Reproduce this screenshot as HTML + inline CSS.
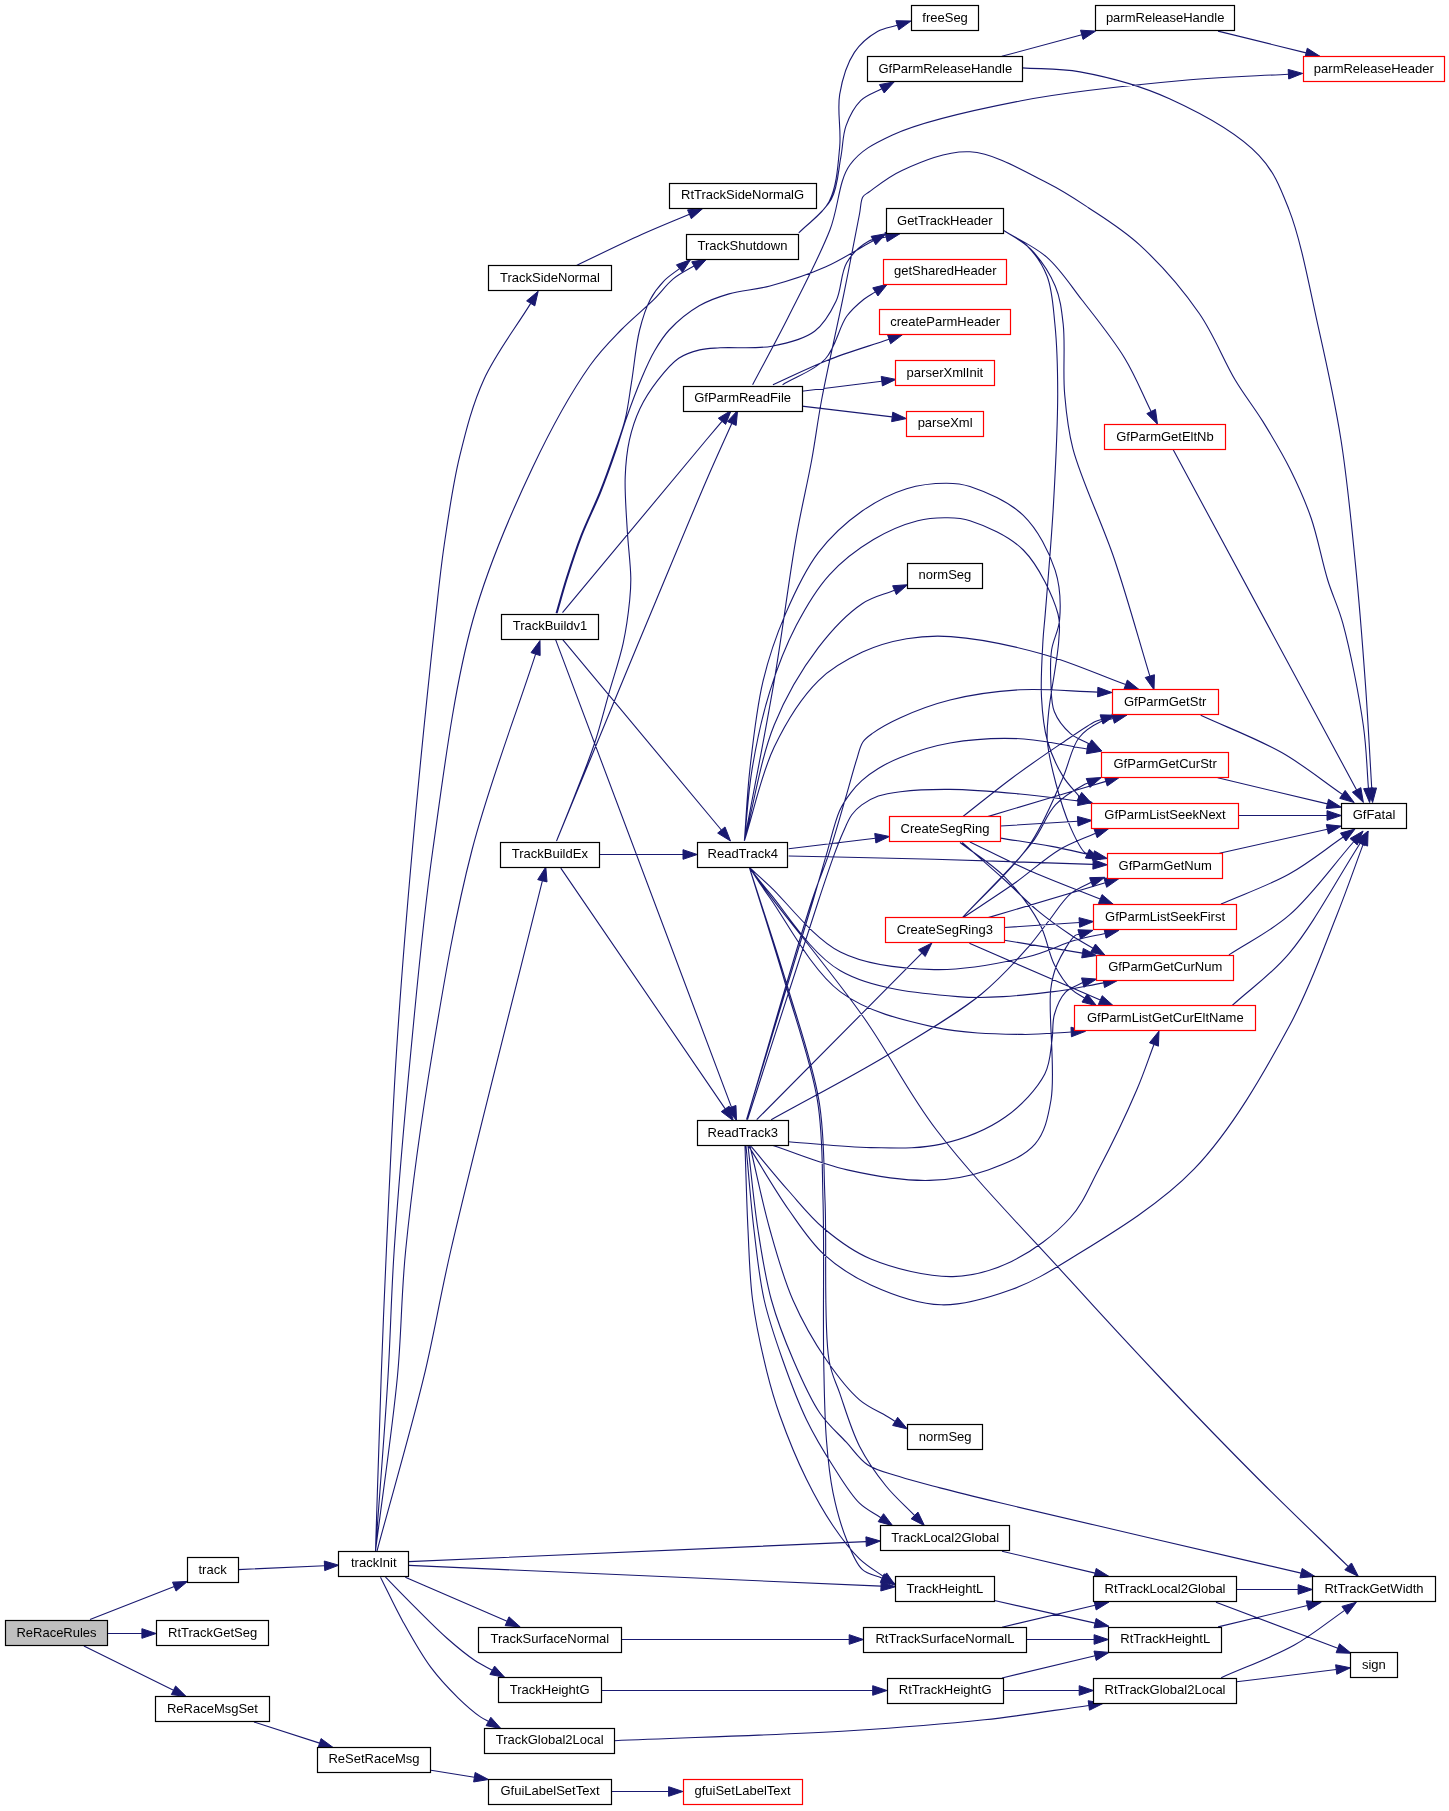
<!DOCTYPE html>
<html><head><meta charset="utf-8"><style>
html,body{margin:0;padding:0;background:#fff;}
svg{display:block;} .t{will-change:transform;}
text{font-family:"Liberation Sans",sans-serif;font-size:13px;text-anchor:middle;fill:#000;}
</style></head><body>
<svg width="1449" height="1811" viewBox="0 0 1449 1811">
<path d="M90.00,1619.60L174.28,1586.61 M108.00,1633.50L141.90,1633.50 M83.90,1646.00L173.48,1690.27 M254.00,1722.00L319.59,1743.12 M431.00,1770.20L474.38,1777.22 M611.50,1791.50L668.60,1791.50 M238.20,1569.60L324.51,1565.82 M405.30,1577.20L507.08,1621.22 M385.50,1577.20C395.07,1586.93 404.23,1596.50 414.20,1606.40C424.78,1616.91 436.54,1629.04 447.30,1638.50C456.71,1646.78 466.56,1654.88 474.90,1660.50C481.17,1664.72 486.46,1667.02 492.24,1670.28 M380.50,1577.20C388.03,1592.10 394.87,1607.11 403.10,1621.90C411.57,1637.12 420.86,1653.93 430.70,1667.20C439.40,1678.93 449.32,1689.33 458.30,1698.10C465.82,1705.44 474.70,1712.92 480.40,1716.90C483.62,1719.15 485.77,1719.94 488.45,1721.46 M408.90,1561.60L866.11,1541.62 M408.90,1565.40L881.01,1586.17 M621.40,1639.50L849.20,1639.50 M601.20,1690.50L872.70,1690.50 M614.60,1740.70C693.07,1737.37 782.51,1734.87 850.00,1730.70C901.04,1727.55 942.39,1724.37 984.30,1719.80C1021.38,1715.75 1053.99,1710.23 1088.83,1705.45 M1002.00,1551.20L1095.08,1573.12 M994.40,1600.50L1095.05,1623.16 M1002.00,1627.20L1095.08,1605.28 M1026.40,1639.50L1094.10,1639.50 M1002.00,1678.00L1095.09,1655.73 M1003.30,1690.50L1079.20,1690.50 M1236.60,1589.50L1298.10,1589.50 M1216.00,1602.20L1337.82,1648.24 M1218.10,1626.90L1307.39,1605.53 M1221.20,1677.70C1245.60,1666.83 1272.79,1657.25 1294.40,1645.10C1313.27,1634.49 1327.89,1621.92 1344.64,1610.34 M1236.70,1681.80L1336.21,1669.55 M749.40,867.50C756.27,876.90 760.54,883.08 770.00,895.70C789.86,922.19 835.36,977.29 863.90,1017.70C890.50,1055.36 906.86,1091.04 936.50,1130.00C972.83,1177.77 1029.39,1235.41 1070.00,1280.20C1103.40,1317.04 1130.94,1346.91 1162.30,1380.00C1194.06,1413.51 1227.54,1448.10 1259.40,1480.00C1289.44,1510.08 1318.57,1537.62 1348.15,1566.42 M375.50,1551.00C377.40,1492.90 379.23,1430.17 381.20,1376.70C382.88,1331.10 384.24,1297.03 386.40,1250.00C389.12,1190.90 392.29,1116.64 396.60,1050.00C400.92,983.30 406.15,918.96 412.30,850.00C418.91,775.98 429.21,675.71 435.30,620.00C438.78,588.15 440.40,570.97 444.20,545.00C448.34,516.71 452.73,484.94 459.60,456.70C466.13,429.85 472.50,404.37 483.90,379.40C495.87,353.19 515.10,328.72 530.70,303.38 M375.50,1551.00C379.67,1492.90 384.77,1430.19 388.00,1376.70C390.75,1331.12 391.08,1297.00 394.20,1250.00C398.13,1190.88 404.57,1116.63 411.00,1050.00C417.44,983.29 423.06,918.83 432.80,850.00C443.29,775.85 453.89,687.95 472.90,620.00C488.81,563.13 511.13,512.76 532.50,467.70C550.59,429.54 572.59,390.14 590.00,365.50C601.04,349.88 610.20,341.13 621.00,330.00C631.55,319.13 644.62,308.73 654.00,299.40C661.41,292.03 666.40,284.49 673.20,278.90C679.34,273.86 689.83,268.42 692.60,266.80C693.34,266.37 693.55,266.28 694.03,266.02 M375.50,1551.00C382.80,1492.90 392.29,1430.25 397.40,1376.70C401.75,1331.18 400.99,1296.94 405.70,1250.00C411.64,1190.82 421.79,1116.50 432.80,1050.00C443.87,983.17 454.94,915.81 472.00,850.00C489.15,783.84 514.39,719.40 535.59,654.10 M377.00,1551.00C392.63,1492.90 410.98,1430.33 423.90,1376.70C434.85,1331.26 438.66,1303.14 450.90,1250.00C471.87,1158.95 511.87,1003.85 542.36,880.78 M575.60,265.90C597.60,255.47 621.28,243.73 641.60,234.60C658.74,226.90 673.49,221.06 689.44,214.29 M556.10,613.10C559.53,601.37 562.51,590.14 566.40,577.90C570.71,564.35 575.51,549.57 581.00,535.40C586.67,520.78 594.23,505.98 600.00,491.50C605.52,477.66 610.58,463.19 615.00,450.40C618.83,439.32 622.49,430.13 625.20,419.20C628.09,407.54 629.32,395.76 631.50,382.40C634.09,366.48 635.86,344.99 639.60,330.00C642.53,318.28 645.77,307.99 650.30,299.40C654.07,292.25 658.59,286.53 663.60,281.30C668.36,276.32 674.17,272.81 679.45,268.56 M557.10,613.10C560.53,601.37 563.51,590.14 567.40,577.90C571.71,564.35 576.51,549.57 582.00,535.40C587.67,520.78 595.23,505.98 601.00,491.50C606.52,477.66 611.62,463.20 616.00,450.40C619.79,439.32 622.10,430.32 626.00,419.20C630.56,406.18 636.75,389.46 642.00,377.20C646.22,367.34 649.79,359.07 654.50,351.00C658.92,343.42 662.84,336.81 669.20,330.00C677.00,321.65 688.74,311.92 699.20,305.80C708.75,300.21 718.11,297.09 729.00,293.90C741.42,290.26 755.46,289.87 770.00,286.00C787.21,281.43 808.35,274.60 825.30,267.10C840.80,260.24 860.64,247.60 868.10,243.50C870.74,242.05 871.67,241.54 873.46,240.57 M562.50,612.70C610.40,555.13 682.33,468.47 706.20,440.00C714.07,430.61 716.72,427.55 721.97,421.32 M562.50,639.40L721.35,830.01 M555.50,639.40L731.46,1107.12 M556.50,841.10C562.67,825.73 568.83,810.82 575.00,795.00C581.50,778.34 588.80,760.67 594.50,743.50C600.05,726.77 604.12,710.04 608.90,693.30C613.68,676.57 619.69,659.30 623.20,643.10C626.41,628.29 628.50,612.01 629.70,600.00C630.56,591.44 630.91,586.70 630.80,577.90C630.64,564.85 628.13,545.81 627.20,529.30C626.24,512.17 624.60,492.81 625.20,476.90C625.70,463.53 626.82,451.75 629.40,440.10C631.84,429.08 635.20,418.63 639.90,408.70C644.62,398.72 651.05,388.95 657.70,380.40C664.05,372.23 671.09,363.46 678.70,358.30C685.25,353.86 692.64,351.64 699.70,349.90C706.41,348.25 711.66,348.36 720.00,347.80C733.30,346.91 755.66,349.21 771.90,346.20C787.06,343.39 803.69,339.48 814.60,331.30C824.44,323.92 830.68,312.44 836.00,301.30C841.54,289.70 840.66,273.15 846.70,262.80C851.96,253.79 860.67,245.57 868.10,241.40C873.92,238.14 880.10,238.50 886.10,237.06 M556.50,841.10C575.87,794.23 596.82,743.44 614.60,700.50C629.64,664.19 641.72,634.97 656.30,600.00C672.25,561.76 692.55,512.50 706.60,480.00C716.29,457.59 723.39,442.31 731.78,423.46 M599.50,854.50L683.00,854.50 M560.80,868.10L725.24,1108.89 M798.80,232.90C808.93,222.40 822.37,214.56 829.20,201.40C836.90,186.57 837.98,164.89 839.70,146.80C841.37,129.23 836.93,110.68 839.70,94.40C842.25,79.39 847.16,63.31 854.40,52.40C860.46,43.27 869.58,36.03 877.50,31.50C883.97,27.80 890.74,27.35 897.35,25.28 M798.80,232.90C809.63,221.70 824.31,212.23 831.30,199.30C838.01,186.89 838.25,170.32 840.80,157.30C842.99,146.11 842.54,135.50 846.00,125.90C849.32,116.71 854.32,106.98 860.70,100.70C866.52,94.97 874.79,92.77 881.84,88.81 M1001.80,56.30L1081.79,34.81 M1022.20,67.90C1041.47,69.23 1058.87,68.04 1080.00,71.90C1106.83,76.80 1140.55,85.59 1169.50,98.80C1200.30,112.86 1238.59,133.91 1258.90,155.40C1274.38,171.78 1280.05,186.97 1288.80,209.10C1301.17,240.40 1309.77,289.19 1318.60,328.40C1327.09,366.12 1334.95,401.80 1341.00,440.00C1347.30,479.78 1351.21,521.71 1355.30,562.60C1359.38,603.41 1362.69,646.01 1365.50,685.10C1368.08,720.94 1369.66,753.85 1371.74,788.23 M1218.00,31.10L1306.12,52.87 M752.60,384.70C764.50,362.13 776.19,341.11 788.30,317.00C801.90,289.94 819.24,257.28 829.90,230.00C838.87,207.05 838.20,181.01 850.00,164.80C860.29,150.66 873.52,143.84 892.50,135.00C922.76,120.90 974.11,109.93 1020.00,101.00C1072.30,90.82 1141.06,84.24 1190.10,79.80C1227.27,76.43 1255.65,76.07 1288.42,74.21 M782.60,384.70C796.83,376.13 814.58,370.58 825.30,359.00C835.80,347.66 839.03,326.89 846.70,316.30C852.16,308.75 858.53,303.50 863.90,299.20C867.92,295.98 871.53,294.33 875.35,291.89 M772.90,384.70C790.93,376.60 808.17,367.82 827.00,360.40C846.80,352.59 868.38,346.28 889.07,339.22 M801.80,391.20L881.81,381.18 M801.80,406.10L892.20,416.90 M1003.60,230.40C1018.07,239.37 1034.13,246.02 1047.00,257.30C1060.39,269.03 1069.97,284.49 1082.00,300.00C1095.76,317.73 1112.84,338.71 1124.70,358.20C1135.47,375.89 1142.33,393.73 1151.14,411.49 M1003.60,230.40C1012.57,236.60 1022.41,240.76 1030.50,249.00C1039.97,258.64 1049.85,273.26 1055.30,286.30C1060.37,298.44 1061.54,309.67 1063.20,324.30C1065.41,343.83 1062.76,371.71 1064.60,393.40C1066.26,412.89 1067.39,427.38 1072.90,448.60C1080.91,479.44 1101.57,521.45 1114.30,559.00C1127.26,597.26 1138.00,637.08 1149.85,676.12 M1003.60,230.40C1011.17,235.27 1019.51,238.33 1026.30,245.00C1034.28,252.84 1042.24,263.93 1047.00,276.00C1052.45,289.83 1053.11,306.70 1054.90,324.30C1057.03,345.22 1057.67,367.67 1057.70,393.40C1057.74,425.93 1055.58,467.09 1053.50,503.90C1051.42,540.75 1047.13,590.47 1045.20,614.40C1044.27,625.92 1043.57,629.76 1043.00,640.00C1042.14,655.31 1040.54,679.67 1041.50,697.40C1042.33,712.83 1043.53,727.04 1047.30,740.50C1050.88,753.28 1056.96,766.48 1063.00,776.40C1067.92,784.48 1073.90,789.85 1079.35,796.57 M1173.10,449.60L1356.61,789.91 M1200.70,715.30C1227.70,727.73 1257.18,738.65 1281.70,752.60C1303.99,765.28 1322.18,780.46 1342.42,794.39 M1217.70,777.80L1327.39,803.89 M1238.50,815.50L1327.00,815.50 M1219.40,853.30L1327.34,829.21 M1221.00,904.10C1243.73,894.07 1268.28,885.64 1289.20,874.00C1308.79,863.10 1325.20,849.38 1343.20,837.07 M1228.90,954.90C1249.00,941.67 1269.85,932.04 1289.20,915.20C1311.71,895.60 1332.18,866.23 1353.67,841.75 M1232.00,1005.70C1251.07,988.23 1270.50,975.46 1289.20,953.30C1313.53,924.48 1336.63,879.78 1360.35,843.02 M744.40,840.90C754.33,787.53 765.38,732.78 774.20,680.80C782.53,631.73 789.05,577.72 796.20,537.30C801.47,507.51 807.28,484.17 811.70,460.00C815.58,438.77 817.33,422.79 821.60,400.00C827.30,369.55 837.23,326.61 843.90,293.70C849.67,265.24 856.23,230.79 859.50,214.00C861.01,206.25 860.54,200.75 862.80,197.00C864.33,194.45 866.04,194.15 869.00,192.00C875.58,187.21 888.45,176.50 902.00,170.40C920.11,162.24 946.86,150.46 970.00,151.80C995.11,153.25 1025.63,172.16 1047.00,182.80C1063.30,190.92 1074.08,198.22 1088.40,207.70C1104.79,218.55 1122.75,229.46 1139.60,244.90C1159.80,263.40 1182.94,289.87 1199.30,313.50C1214.21,335.04 1223.58,360.68 1235.20,380.00C1244.63,395.68 1253.84,406.91 1262.80,421.40C1272.27,436.72 1282.27,453.36 1290.40,469.70C1298.31,485.58 1305.10,500.66 1311.10,518.00C1317.73,537.16 1321.92,561.21 1327.70,580.00C1332.62,595.99 1338.12,606.02 1343.00,623.90C1350.30,650.66 1359.21,696.05 1363.40,726.00C1366.65,749.20 1366.76,767.50 1368.44,788.25 M744.40,840.90C746.23,816.97 747.06,794.22 749.90,769.10C753.06,741.13 756.61,707.86 763.10,680.80C768.84,656.88 776.02,635.92 785.20,614.60C794.41,593.22 804.79,570.41 818.30,552.70C830.88,536.20 846.92,521.72 862.50,510.80C876.52,500.97 891.90,493.26 906.60,488.70C919.87,484.58 934.86,483.19 946.40,483.20C955.29,483.21 960.87,483.50 970.00,486.50C984.56,491.29 1009.18,501.68 1023.30,515.40C1037.76,529.45 1049.33,551.91 1055.20,570.40C1060.38,586.71 1060.82,605.35 1059.60,619.70C1058.63,631.12 1053.06,639.59 1051.60,650.00C1050.10,660.68 1050.37,672.39 1050.90,683.00C1051.40,692.94 1051.03,703.29 1054.40,711.80C1057.64,719.97 1064.01,727.83 1070.20,733.30C1075.81,738.26 1082.95,740.44 1089.32,744.01 M744.40,840.90C746.97,816.97 748.05,793.35 752.10,769.10C756.34,743.69 762.06,716.28 769.70,691.80C776.94,668.58 785.72,645.74 796.20,625.60C805.87,607.02 816.21,589.32 829.40,574.80C842.12,560.79 858.14,548.68 873.50,539.50C887.67,531.03 904.31,524.14 917.70,520.70C928.07,518.04 937.31,517.70 946.40,517.80C954.66,517.89 960.89,517.76 970.00,520.70C984.58,525.41 1008.97,535.59 1023.30,550.00C1038.98,565.77 1053.39,596.94 1058.00,614.00C1060.75,624.20 1059.39,629.21 1058.80,640.00C1057.82,658.01 1050.46,693.23 1048.70,711.80C1047.59,723.49 1046.52,730.02 1047.30,740.50C1048.26,753.44 1052.13,769.27 1055.90,783.50C1059.73,797.98 1064.78,814.28 1070.20,826.60C1074.57,836.53 1081.25,849.31 1084.60,852.40C1085.68,853.39 1086.46,853.25 1087.39,853.67 M744.40,840.90C754.33,802.27 760.45,758.93 774.20,725.00C786.06,695.74 802.03,669.01 818.30,647.70C831.93,629.84 848.00,613.20 862.50,603.50C873.30,596.28 883.83,594.63 894.50,590.19 M744.40,840.90C754.33,809.60 760.88,774.75 774.20,747.00C786.17,722.07 801.73,697.18 818.30,680.80C831.79,667.47 847.25,659.17 862.50,652.10C876.75,645.49 891.73,641.37 906.60,638.80C921.17,636.28 933.54,635.42 950.80,636.60C975.70,638.31 1011.98,645.62 1041.30,653.70C1070.25,661.68 1097.55,674.29 1125.67,684.58 M788.60,848.70L875.30,838.22 M788.60,856.00C837.13,857.10 884.62,857.95 934.20,859.30C985.99,860.71 1040.07,862.66 1093.01,864.35 M746.50,1119.70C768.37,1046.47 797.01,945.64 812.10,900.00C819.03,879.05 823.31,870.55 828.60,854.60C834.38,837.18 840.27,816.19 845.20,799.40C849.32,785.37 852.93,771.24 856.30,760.70C858.66,753.30 859.70,746.80 862.90,742.00C865.53,738.07 868.45,736.21 872.80,733.10C879.50,728.31 889.62,722.59 900.40,717.70C914.31,711.39 931.80,704.53 950.00,700.00C971.09,694.75 996.00,691.19 1020.00,689.80C1045.16,688.35 1071.80,691.32 1097.71,692.08 M746.50,1119.70C768.73,1046.47 799.59,945.80 813.20,900.00C819.38,879.22 821.96,869.62 826.40,854.60C830.79,839.76 834.65,821.55 839.70,810.40C843.09,802.92 846.78,797.98 850.70,792.80C854.20,788.19 857.51,784.46 861.80,780.60C866.57,776.31 872.23,772.22 878.30,768.50C884.98,764.42 891.37,760.95 900.40,757.40C913.45,752.28 931.85,746.15 950.00,743.00C971.14,739.33 996.96,737.65 1020.00,738.70C1042.68,739.73 1064.78,745.58 1087.17,749.03 M747.50,1119.70C771.23,1046.47 803.48,945.74 818.70,900.00C825.64,879.15 829.62,866.99 834.20,854.60C837.42,845.87 839.92,839.40 843.00,832.50C845.81,826.21 848.31,819.62 851.80,814.80C854.74,810.73 857.80,807.85 861.80,804.90C866.41,801.50 872.22,798.27 878.30,796.10C884.97,793.72 891.52,792.78 900.40,791.70C913.59,790.09 932.05,789.23 950.00,789.40C971.33,789.61 997.78,791.96 1020.00,794.00C1040.29,795.86 1058.73,798.55 1078.10,800.83 M771.20,1119.70C809.90,1098.20 851.00,1077.04 887.30,1055.20C920.63,1035.15 956.11,1014.52 981.20,994.20C1000.51,978.56 1016.02,960.94 1028.10,947.30C1036.59,937.71 1041.39,930.23 1048.30,921.50C1055.48,912.44 1062.44,900.66 1070.40,893.90C1076.95,888.34 1084.30,886.07 1091.25,882.15 M756.70,1119.70L921.83,953.15 M788.40,1141.70C815.87,1143.67 844.41,1147.31 870.80,1147.60C895.18,1147.87 918.74,1149.21 941.20,1144.10C963.45,1139.04 987.31,1129.73 1005.00,1117.30C1021.31,1105.84 1037.27,1088.61 1044.80,1074.00C1050.59,1062.77 1050.39,1050.56 1052.00,1040.00C1053.38,1030.93 1052.10,1022.51 1054.40,1014.50C1056.67,1006.59 1060.44,997.61 1065.60,992.20C1070.18,987.40 1077.02,985.78 1082.73,982.57 M772.20,1145.30C797.23,1153.50 821.42,1164.06 847.30,1169.90C873.78,1175.87 904.37,1181.02 929.40,1180.40C950.65,1179.87 970.11,1176.26 988.10,1169.90C1005.15,1163.87 1024.50,1156.37 1035.00,1144.10C1044.83,1132.61 1047.80,1118.36 1051.00,1100.00C1055.91,1071.84 1047.84,1013.27 1050.70,989.70C1052.08,978.33 1053.37,973.15 1056.90,964.80C1060.98,955.14 1070.49,939.04 1075.00,935.60C1076.63,934.36 1077.85,934.76 1079.28,934.34 M751.10,1146.40C763.63,1161.27 776.19,1176.93 788.70,1191.00C800.45,1204.21 810.57,1217.35 823.90,1228.50C837.80,1240.13 852.15,1251.25 870.80,1259.00C893.64,1268.49 927.88,1277.13 952.90,1276.60C974.16,1276.15 992.89,1270.35 1011.60,1261.40C1032.10,1251.59 1055.11,1234.58 1070.00,1218.00C1083.13,1203.38 1088.86,1187.67 1098.70,1169.20C1110.97,1146.16 1126.97,1112.77 1136.80,1089.80C1144.09,1072.77 1148.23,1059.58 1153.94,1044.48 M748.80,1146.40C762.10,1167.53 775.31,1190.84 788.70,1209.80C800.36,1226.31 810.15,1241.85 823.90,1254.40C837.55,1266.85 852.89,1276.77 870.80,1284.90C891.28,1294.20 917.64,1304.08 941.20,1304.80C964.58,1305.52 989.72,1297.43 1011.60,1289.50C1032.52,1281.92 1047.50,1272.92 1070.00,1259.00C1104.29,1237.78 1158.19,1206.44 1194.00,1169.20C1231.93,1129.76 1264.44,1072.03 1289.20,1026.30C1309.97,987.93 1323.60,948.22 1336.80,915.20C1347.24,889.10 1354.34,868.00 1363.12,844.40 M745.00,1146.00C746.00,1174.00 746.65,1203.29 748.00,1230.00C749.24,1254.41 749.52,1276.62 752.60,1300.00C755.75,1323.88 761.71,1350.90 766.90,1371.80C771.00,1388.33 774.36,1399.87 780.00,1415.70C786.92,1435.11 797.03,1460.03 806.50,1479.30C814.84,1496.27 823.59,1511.86 833.00,1525.70C841.38,1538.03 850.25,1549.90 859.50,1558.80C867.31,1566.32 875.70,1570.79 883.81,1576.79 M746.00,1146.00C748.67,1174.00 750.79,1203.31 754.00,1230.00C756.94,1254.43 759.18,1277.75 764.20,1300.00C768.93,1320.96 775.70,1340.16 782.70,1360.00C789.78,1380.07 797.64,1401.35 806.50,1419.70C814.57,1436.42 823.80,1451.62 833.00,1466.00C841.52,1479.30 850.30,1494.21 859.50,1503.20C866.41,1509.95 873.74,1512.85 880.86,1517.68 M748.00,1146.00C751.33,1174.00 753.87,1203.34 758.00,1230.00C761.79,1254.47 765.27,1277.80 771.40,1300.00C777.21,1321.02 785.05,1340.84 793.30,1360.00C801.25,1378.45 809.87,1398.49 819.80,1413.00C827.90,1424.84 837.92,1433.14 846.30,1442.20C853.72,1450.23 858.95,1459.01 867.50,1464.70C876.47,1470.66 887.96,1472.91 899.30,1476.60C911.95,1480.71 925.09,1483.98 940.00,1487.90C958.04,1492.64 975.47,1496.88 1000.00,1502.80C1038.72,1512.15 1099.91,1526.29 1150.00,1538.00C1200.26,1549.75 1250.71,1561.44 1301.07,1573.16 M750.00,1146.00C756.67,1174.00 762.50,1203.42 770.00,1230.00C776.92,1254.55 783.27,1278.00 792.90,1300.00C802.20,1321.25 814.41,1342.52 826.40,1360.00C836.81,1375.17 848.24,1390.15 859.50,1399.80C868.20,1407.26 879.47,1411.72 886.00,1415.70C889.85,1418.05 892.10,1419.48 895.14,1421.37 M749.40,867.50C761.50,906.67 774.29,945.88 785.70,985.00C796.98,1023.68 811.40,1063.46 817.50,1100.90C823.05,1134.92 821.89,1163.01 823.00,1200.00C824.40,1246.96 822.85,1315.90 823.70,1360.00C824.30,1391.09 824.52,1415.70 826.40,1439.50C827.94,1459.02 829.53,1475.63 833.00,1492.60C836.29,1508.72 840.86,1525.40 846.30,1539.00C850.89,1550.46 855.20,1562.85 862.20,1569.40C867.79,1574.63 875.54,1575.29 882.22,1578.23 M749.40,867.50C761.93,906.67 775.34,945.85 787.00,985.00C798.51,1023.65 812.77,1063.46 819.00,1100.90C824.66,1134.92 823.42,1163.01 825.00,1200.00C827.01,1246.96 823.36,1326.90 829.00,1360.00C831.63,1375.43 835.43,1380.82 839.70,1393.10C845.15,1408.77 851.33,1430.20 859.50,1446.20C867.01,1460.90 876.42,1474.12 886.00,1486.00C894.87,1497.00 905.03,1505.62 914.54,1515.43 M749.40,867.50C756.27,873.77 761.12,878.10 770.00,886.30C786.51,901.53 812.95,938.12 840.40,952.00C867.72,965.82 902.86,968.83 934.20,969.60C965.43,970.36 1002.43,962.89 1028.10,956.70C1046.68,952.22 1061.00,944.33 1075.00,940.30C1086.03,937.13 1095.04,935.75 1105.06,933.47 M749.40,867.50C756.27,876.13 760.85,882.65 770.00,893.40C786.26,912.51 810.64,953.58 840.40,970.80C872.28,989.25 920.58,993.50 957.70,996.60C990.55,999.34 1024.95,994.87 1051.60,991.90C1071.59,989.67 1086.34,985.86 1103.71,982.85 M749.40,867.50C756.27,877.67 760.88,885.19 770.00,898.00C786.28,920.87 811.54,970.27 840.40,991.90C867.06,1011.89 902.95,1020.08 934.20,1027.10C963.52,1033.68 997.02,1033.97 1022.10,1034.40C1040.83,1034.72 1054.84,1032.80 1071.22,1032.00 M962.80,816.60C979.37,803.63 995.77,790.09 1012.50,777.70C1028.91,765.55 1047.23,753.00 1062.20,742.90C1074.27,734.76 1088.47,724.61 1095.30,721.40C1098.08,720.09 1099.46,720.10 1101.55,719.45 M987.70,816.60C1007.00,810.83 1026.10,805.11 1045.60,799.30C1065.49,793.37 1085.80,787.35 1105.89,781.38 M1000.50,826.00L1077.73,821.27 M1000.50,838.10C1017.53,840.87 1035.46,843.34 1051.60,846.40C1066.28,849.18 1079.48,852.45 1093.42,855.47 M969.90,842.00C989.30,851.30 1007.51,860.82 1028.10,869.90C1050.71,879.87 1076.19,889.33 1100.24,899.04 M962.20,842.50C976.20,854.83 991.11,867.63 1004.20,879.50C1015.97,890.18 1025.98,901.02 1037.30,910.40C1048.08,919.33 1060.27,927.98 1070.40,934.70C1078.52,940.08 1085.48,943.69 1093.02,948.18 M960.00,842.50C974.87,853.97 991.40,863.51 1004.60,876.90C1018.07,890.57 1031.33,908.13 1039.80,923.90C1047.08,937.46 1048.41,953.19 1054.40,964.80C1059.41,974.51 1065.87,983.97 1071.80,989.70C1076.00,993.76 1080.34,995.24 1084.61,998.01 M962.40,917.60C984.60,893.60 1011.86,870.35 1029.00,845.60C1043.89,824.10 1053.35,799.05 1062.20,779.40C1069.07,764.15 1071.22,747.91 1078.80,738.00C1084.65,730.35 1093.48,725.15 1100.00,722.00C1104.67,719.75 1108.77,719.73 1113.16,718.59 M962.40,917.60C985.43,892.90 1015.09,864.97 1031.50,843.50C1042.53,829.07 1046.06,814.71 1055.60,804.60C1063.89,795.81 1078.56,787.63 1083.90,784.70C1085.83,783.64 1086.69,783.55 1088.09,782.97 M962.20,918.20C979.87,906.40 998.49,894.63 1015.20,882.80C1030.76,871.79 1044.96,858.27 1059.40,849.70C1071.65,842.43 1083.49,838.70 1095.53,833.20 M988.20,917.60L1105.30,882.69 M1004.40,927.50L1079.33,922.46 M1004.40,940.20L1082.49,953.16 M969.40,943.30L1100.28,1000.11" fill="none" stroke="#191970" stroke-width="1.1"/>
<path d="M176.03,1591.08L187.60,1581.40L172.53,1582.14Z M141.90,1638.30L156.20,1633.50L141.90,1628.70Z M171.35,1694.57L186.30,1696.60L175.61,1685.96Z M318.12,1747.69L333.20,1747.50L321.06,1738.55Z M473.62,1781.96L488.50,1779.50L475.15,1772.48Z M668.60,1796.30L682.90,1791.50L668.60,1786.70Z M324.72,1570.62L338.80,1565.20L324.30,1561.03Z M505.17,1625.63L520.20,1626.90L508.98,1616.82Z M489.89,1674.46L504.70,1677.30L494.60,1666.10Z M486.09,1725.64L500.90,1728.50L490.82,1717.28Z M866.32,1546.42L880.40,1541.00L865.90,1536.83Z M880.80,1590.97L895.30,1586.80L881.22,1581.38Z M849.20,1644.30L863.50,1639.50L849.20,1634.70Z M872.70,1695.30L887.00,1690.50L872.70,1685.70Z M1089.49,1710.20L1103.00,1703.50L1088.18,1700.69Z M1093.98,1577.79L1109.00,1576.40L1096.18,1568.45Z M1093.99,1627.84L1109.00,1626.30L1096.10,1618.48Z M1096.18,1609.95L1109.00,1602.00L1093.98,1600.61Z M1094.10,1644.30L1108.40,1639.50L1094.10,1634.70Z M1096.21,1660.40L1109.00,1652.40L1093.98,1651.06Z M1079.20,1695.30L1093.50,1690.50L1079.20,1685.70Z M1298.10,1594.30L1312.40,1589.50L1298.10,1584.70Z M1336.13,1652.73L1351.20,1653.30L1339.52,1643.75Z M1308.51,1610.20L1321.30,1602.20L1306.28,1600.86Z M1347.37,1614.28L1356.40,1602.20L1341.91,1606.39Z M1336.79,1674.31L1350.40,1667.80L1335.62,1664.78Z M1344.81,1569.86L1358.40,1576.40L1351.50,1562.98Z M534.79,305.89L538.20,291.20L526.62,300.86Z M696.32,270.24L706.60,259.20L691.74,261.80Z M540.15,655.58L540.00,640.50L531.02,652.62Z M547.02,881.93L545.80,866.90L537.70,879.63Z M691.31,218.71L702.60,208.70L687.56,209.87Z M682.46,272.30L690.60,259.60L676.45,264.82Z M875.76,244.78L886.00,233.70L871.15,236.36Z M725.64,424.42L731.20,410.40L718.31,418.23Z M717.66,833.09L730.50,841.00L725.03,826.94Z M726.97,1108.81L736.50,1120.50L735.96,1105.43Z M887.23,241.72L900.00,233.70L884.97,232.39Z M736.17,425.42L737.60,410.40L727.40,421.51Z M683.00,859.30L697.30,854.50L683.00,849.70Z M721.27,1111.60L733.30,1120.70L729.20,1106.18Z M898.79,29.86L911.00,21.00L895.92,20.70Z M884.19,92.99L894.30,81.80L879.48,84.63Z M1083.04,39.45L1095.60,31.10L1080.54,30.17Z M1366.95,788.52L1372.60,802.50L1376.53,787.94Z M1304.97,57.53L1320.00,56.30L1307.27,48.21Z M1288.70,79.00L1302.70,73.40L1288.15,69.42Z M877.93,295.94L887.40,284.20L872.76,287.85Z M890.62,343.76L902.60,334.60L887.52,334.68Z M882.41,385.94L896.00,379.40L881.21,376.41Z M891.63,421.67L906.40,418.60L892.77,412.14Z M1146.84,413.62L1157.50,424.30L1155.44,409.36Z M1145.25,677.51L1154.00,689.80L1154.44,674.72Z M1076.99,800.75L1091.80,803.60L1081.71,792.39Z M1352.39,792.19L1363.40,802.50L1360.84,787.64Z M1339.70,798.35L1354.20,802.50L1345.14,790.44Z M1326.28,808.56L1341.30,807.20L1328.50,799.22Z M1327.00,820.30L1341.30,815.50L1327.00,810.70Z M1328.39,833.90L1341.30,826.10L1326.30,824.53Z M1345.91,841.03L1355.00,829.00L1340.49,833.11Z M1357.27,844.91L1363.10,831.00L1350.06,838.58Z M1364.38,845.62L1368.10,831.00L1356.31,840.41Z M1363.66,788.63L1369.60,802.50L1373.23,787.86Z M1086.98,748.20L1101.80,751.00L1091.67,739.82Z M1085.40,858.04L1100.40,859.60L1089.38,849.30Z M896.34,594.62L907.70,584.70L892.65,585.76Z M1124.02,689.09L1139.10,689.50L1127.32,680.08Z M875.88,842.98L889.50,836.50L874.73,833.45Z M1092.85,869.14L1107.30,864.80L1093.16,859.55Z M1097.57,696.88L1112.00,692.50L1097.85,687.28Z M1086.44,753.77L1101.30,751.20L1087.90,744.28Z M1077.54,805.60L1092.30,802.50L1078.66,796.06Z M1092.88,886.67L1104.70,877.30L1089.62,877.64Z M925.24,956.53L931.90,943.00L918.42,949.78Z M1083.89,987.22L1096.60,979.10L1081.56,977.91Z M1080.64,938.94L1093.00,930.30L1077.93,929.73Z M1158.43,1046.17L1159.00,1031.10L1149.45,1042.78Z M1367.62,846.08L1368.10,831.00L1358.62,842.73Z M880.95,1580.65L895.30,1585.30L886.66,1572.93Z M878.17,1521.65L892.70,1525.70L883.56,1513.70Z M1299.98,1577.83L1315.00,1576.40L1302.16,1568.48Z M892.62,1425.45L907.30,1428.90L897.67,1417.29Z M880.28,1582.62L895.30,1584.00L884.15,1573.84Z M911.10,1518.78L924.50,1525.70L917.99,1512.09Z M1106.12,938.15L1119.00,930.30L1103.99,928.79Z M1104.53,987.58L1117.80,980.40L1102.89,978.12Z M1071.45,1036.79L1085.50,1031.30L1070.98,1027.20Z M1102.98,724.04L1115.20,715.20L1100.12,714.87Z M1107.26,785.98L1119.60,777.30L1104.53,776.77Z M1078.02,826.06L1092.00,820.40L1077.43,816.48Z M1092.41,860.16L1107.40,858.50L1094.44,850.78Z M1098.44,903.49L1113.50,904.40L1102.04,894.59Z M1090.56,952.30L1105.30,955.50L1095.47,944.06Z M1081.99,1002.04L1096.60,1005.80L1087.22,993.99Z M1114.36,723.24L1127.00,715.00L1111.95,713.94Z M1089.92,787.40L1101.30,777.50L1086.25,778.53Z M1097.14,837.72L1109.00,828.40L1093.92,828.67Z M1106.67,887.29L1119.00,878.60L1103.92,878.09Z M1079.65,927.25L1093.60,921.50L1079.01,917.67Z M1081.71,957.89L1096.60,955.50L1083.28,948.42Z M1098.37,1004.51L1113.40,1005.80L1102.19,995.70Z" fill="#191970" stroke="#191970" stroke-width="1"/>
<rect x="5.50" y="1620.50" width="102.00" height="25.00" fill="#bfbfbf" stroke="#000000" stroke-width="1.2"/>
<rect x="187.50" y="1557.50" width="51.00" height="25.00" fill="#ffffff" stroke="#000000" stroke-width="1.2"/>
<rect x="156.50" y="1620.50" width="112.00" height="25.00" fill="#ffffff" stroke="#000000" stroke-width="1.2"/>
<rect x="155.50" y="1696.50" width="114.00" height="25.00" fill="#ffffff" stroke="#000000" stroke-width="1.2"/>
<rect x="338.50" y="1551.50" width="70.00" height="25.00" fill="#ffffff" stroke="#000000" stroke-width="1.2"/>
<rect x="317.50" y="1747.50" width="113.00" height="25.00" fill="#ffffff" stroke="#000000" stroke-width="1.2"/>
<rect x="488.50" y="265.50" width="123.00" height="25.00" fill="#ffffff" stroke="#000000" stroke-width="1.2"/>
<rect x="669.50" y="183.50" width="147.00" height="25.00" fill="#ffffff" stroke="#000000" stroke-width="1.2"/>
<rect x="686.50" y="234.50" width="112.00" height="25.00" fill="#ffffff" stroke="#000000" stroke-width="1.2"/>
<rect x="683.50" y="386.50" width="119.00" height="25.00" fill="#ffffff" stroke="#000000" stroke-width="1.2"/>
<rect x="478.50" y="1627.50" width="143.00" height="25.00" fill="#ffffff" stroke="#000000" stroke-width="1.2"/>
<rect x="498.50" y="1677.50" width="103.00" height="25.00" fill="#ffffff" stroke="#000000" stroke-width="1.2"/>
<rect x="484.50" y="1728.50" width="130.00" height="25.00" fill="#ffffff" stroke="#000000" stroke-width="1.2"/>
<rect x="488.50" y="1779.50" width="123.00" height="25.00" fill="#ffffff" stroke="#000000" stroke-width="1.2"/>
<rect x="683.50" y="1779.50" width="119.00" height="25.00" fill="#ffffff" stroke="#ff0000" stroke-width="1.2"/>
<rect x="907.50" y="1424.50" width="75.00" height="25.00" fill="#ffffff" stroke="#000000" stroke-width="1.2"/>
<rect x="880.50" y="1525.50" width="129.00" height="25.00" fill="#ffffff" stroke="#000000" stroke-width="1.2"/>
<rect x="895.50" y="1576.50" width="99.00" height="25.00" fill="#ffffff" stroke="#000000" stroke-width="1.2"/>
<rect x="863.50" y="1627.50" width="163.00" height="25.00" fill="#ffffff" stroke="#000000" stroke-width="1.2"/>
<rect x="887.50" y="1678.50" width="116.00" height="25.00" fill="#ffffff" stroke="#000000" stroke-width="1.2"/>
<rect x="1093.50" y="1576.50" width="143.00" height="25.00" fill="#ffffff" stroke="#000000" stroke-width="1.2"/>
<rect x="1108.50" y="1627.50" width="113.00" height="25.00" fill="#ffffff" stroke="#000000" stroke-width="1.2"/>
<rect x="1093.50" y="1678.50" width="143.00" height="25.00" fill="#ffffff" stroke="#000000" stroke-width="1.2"/>
<rect x="1312.50" y="1576.50" width="123.00" height="25.00" fill="#ffffff" stroke="#000000" stroke-width="1.2"/>
<rect x="1350.50" y="1652.50" width="47.00" height="25.00" fill="#ffffff" stroke="#000000" stroke-width="1.2"/>
<rect x="911.50" y="5.50" width="67.00" height="25.00" fill="#ffffff" stroke="#000000" stroke-width="1.2"/>
<rect x="1095.50" y="5.50" width="139.00" height="25.00" fill="#ffffff" stroke="#000000" stroke-width="1.2"/>
<rect x="867.50" y="56.50" width="155.00" height="25.00" fill="#ffffff" stroke="#000000" stroke-width="1.2"/>
<rect x="1303.50" y="56.50" width="141.00" height="25.00" fill="#ffffff" stroke="#ff0000" stroke-width="1.2"/>
<rect x="886.50" y="208.50" width="117.00" height="25.00" fill="#ffffff" stroke="#000000" stroke-width="1.2"/>
<rect x="883.50" y="259.50" width="123.00" height="25.00" fill="#ffffff" stroke="#ff0000" stroke-width="1.2"/>
<rect x="879.50" y="309.50" width="131.00" height="25.00" fill="#ffffff" stroke="#ff0000" stroke-width="1.2"/>
<rect x="895.50" y="360.50" width="99.00" height="25.00" fill="#ffffff" stroke="#ff0000" stroke-width="1.2"/>
<rect x="906.50" y="411.50" width="77.00" height="25.00" fill="#ffffff" stroke="#ff0000" stroke-width="1.2"/>
<rect x="1104.50" y="424.50" width="121.00" height="25.00" fill="#ffffff" stroke="#ff0000" stroke-width="1.2"/>
<rect x="907.50" y="563.50" width="75.00" height="25.00" fill="#ffffff" stroke="#000000" stroke-width="1.2"/>
<rect x="1112.50" y="689.50" width="106.00" height="25.00" fill="#ffffff" stroke="#ff0000" stroke-width="1.2"/>
<rect x="1101.50" y="752.50" width="127.00" height="25.00" fill="#ffffff" stroke="#ff0000" stroke-width="1.2"/>
<rect x="1091.50" y="803.50" width="147.00" height="25.00" fill="#ffffff" stroke="#ff0000" stroke-width="1.2"/>
<rect x="1107.50" y="853.50" width="115.00" height="25.00" fill="#ffffff" stroke="#ff0000" stroke-width="1.2"/>
<rect x="1093.50" y="904.50" width="143.00" height="25.00" fill="#ffffff" stroke="#ff0000" stroke-width="1.2"/>
<rect x="1096.50" y="955.50" width="137.00" height="25.00" fill="#ffffff" stroke="#ff0000" stroke-width="1.2"/>
<rect x="1074.50" y="1005.50" width="181.00" height="25.00" fill="#ffffff" stroke="#ff0000" stroke-width="1.2"/>
<rect x="889.50" y="816.50" width="111.00" height="25.00" fill="#ffffff" stroke="#ff0000" stroke-width="1.2"/>
<rect x="885.50" y="917.50" width="119.00" height="25.00" fill="#ffffff" stroke="#ff0000" stroke-width="1.2"/>
<rect x="1341.50" y="803.50" width="65.00" height="25.00" fill="#ffffff" stroke="#000000" stroke-width="1.2"/>
<rect x="501.50" y="614.50" width="97.00" height="25.00" fill="#ffffff" stroke="#000000" stroke-width="1.2"/>
<rect x="500.50" y="842.50" width="99.00" height="25.00" fill="#ffffff" stroke="#000000" stroke-width="1.2"/>
<rect x="697.50" y="842.50" width="90.00" height="25.00" fill="#ffffff" stroke="#000000" stroke-width="1.2"/>
<rect x="697.50" y="1120.50" width="91.00" height="25.00" fill="#ffffff" stroke="#000000" stroke-width="1.2"/>
<g class="t"><text x="56.50" y="1636.65">ReRaceRules</text>
<text x="212.60" y="1573.75">track</text>
<text x="212.60" y="1636.65">RtTrackGetSeg</text>
<text x="212.45" y="1712.55">ReRaceMsgSet</text>
<text x="373.75" y="1567.10">trackInit</text>
<text x="374.00" y="1763.35">ReSetRaceMsg</text>
<text x="549.95" y="281.80">TrackSideNormal</text>
<text x="742.60" y="198.95">RtTrackSideNormalG</text>
<text x="742.50" y="249.90">TrackShutdown</text>
<text x="742.60" y="401.95">GfParmReadFile</text>
<text x="549.85" y="1643.15">TrackSurfaceNormal</text>
<text x="549.65" y="1693.75">TrackHeightG</text>
<text x="549.70" y="1744.40">TrackGlobal2Local</text>
<text x="550.00" y="1795.00">GfuiLabelSetText</text>
<text x="742.55" y="1795.00">gfuiSetLabelText</text>
<text x="945.15" y="1440.80">normSeg</text>
<text x="945.10" y="1541.85">TrackLocal2Global</text>
<text x="944.85" y="1592.60">TrackHeightL</text>
<text x="944.95" y="1643.20">RtTrackSurfaceNormalL</text>
<text x="945.15" y="1693.95">RtTrackHeightG</text>
<text x="1165.05" y="1592.60">RtTrackLocal2Global</text>
<text x="1165.20" y="1643.20">RtTrackHeightL</text>
<text x="1165.05" y="1693.95">RtTrackGlobal2Local</text>
<text x="1374.00" y="1592.70">RtTrackGetWidth</text>
<text x="1373.90" y="1668.70">sign</text>
<text x="945.10" y="21.70">freeSeg</text>
<text x="1165.15" y="21.70">parmReleaseHandle</text>
<text x="945.30" y="72.55">GfParmReleaseHandle</text>
<text x="1373.85" y="72.55">parmReleaseHeader</text>
<text x="944.85" y="224.50">GetTrackHeader</text>
<text x="945.30" y="275.40">getSharedHeader</text>
<text x="945.10" y="325.85">createParmHeader</text>
<text x="944.90" y="376.55">parserXmlInit</text>
<text x="945.10" y="427.30">parseXml</text>
<text x="1164.95" y="440.75">GfParmGetEltNb</text>
<text x="944.90" y="579.45">normSeg</text>
<text x="1165.15" y="705.85">GfParmGetStr</text>
<text x="1165.15" y="768.40">GfParmGetCurStr</text>
<text x="1165.05" y="819.40">GfParmListSeekNext</text>
<text x="1165.15" y="869.70">GfParmGetNum</text>
<text x="1165.05" y="920.50">GfParmListSeekFirst</text>
<text x="1165.20" y="971.15">GfParmGetCurNum</text>
<text x="1165.30" y="1021.65">GfParmListGetCurEltName</text>
<text x="945.00" y="832.70">CreateSegRing</text>
<text x="944.90" y="933.85">CreateSegRing3</text>
<text x="1374.00" y="819.35">GfFatal</text>
<text x="550.00" y="629.95">TrackBuildv1</text>
<text x="549.85" y="857.95">TrackBuildEx</text>
<text x="742.70" y="857.95">ReadTrack4</text>
<text x="742.70" y="1136.55">ReadTrack3</text></g>
</svg>
</body></html>
